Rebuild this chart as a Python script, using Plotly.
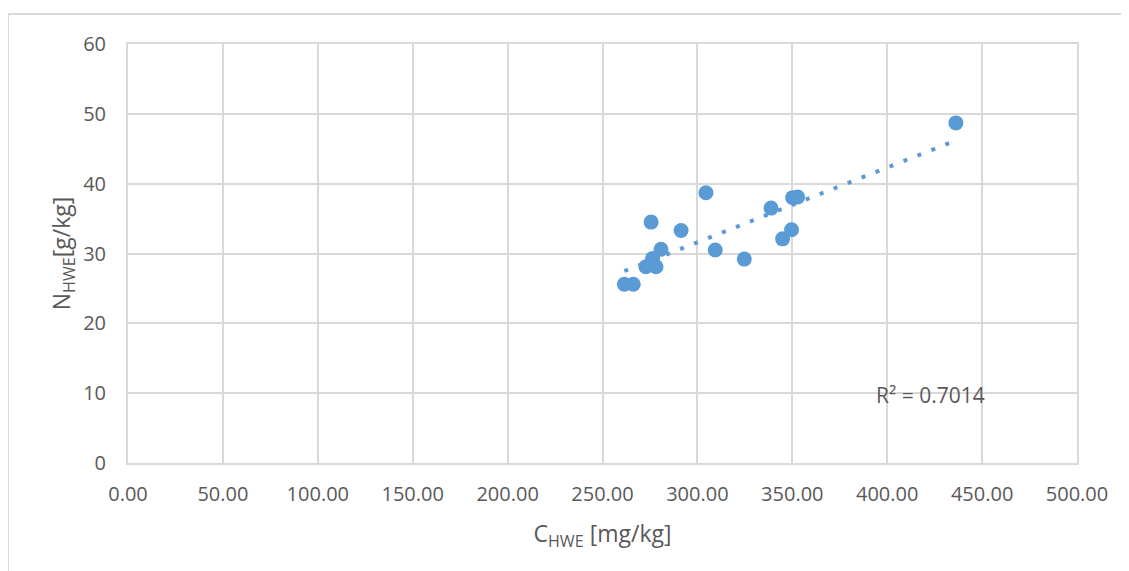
import numpy as np
import plotly.graph_objects as go

c_hwe = [436.2, 304.5, 275.6, 291.4, 280.8, 276.4, 272.9, 278.2, 261.5, 266.2,
         309.4, 324.7, 338.8, 344.9, 349.6, 350.2, 352.8]
n_hwe = [48.7, 38.7, 34.5, 33.3, 30.6, 29.3, 28.1, 28.1, 25.6, 25.6,
         30.5, 29.2, 36.5, 32.1, 33.4, 38.0, 38.1]
r2_text = "R² = 0.7014"

x = np.array(c_hwe)
y = np.array(n_hwe)
slope, intercept = np.polyfit(x, y, 1)
xt = np.array([x.min(), x.max()])
yt = slope * xt + intercept

blue = "#5b9bd5"
grid = "#d9d9d9"
txt = "#595959"
font = "Open Sans, Liberation Sans, sans-serif"

fig = go.Figure()
fig.add_trace(go.Scatter(x=xt, y=yt, mode="lines",
                         line=dict(color=blue, width=4, dash="4px,11px"),
                         hoverinfo="skip", showlegend=False))
fig.add_trace(go.Scatter(x=c_hwe, y=n_hwe, mode="markers",
                         marker=dict(color=blue, size=15),
                         showlegend=False))

fig.add_annotation(x=393, y=9.7, xanchor="left", yanchor="middle",
                   text=r2_text, showarrow=False,
                   font=dict(family=font, size=21, color=txt))

# outer chart border
fig.add_shape(type="rect", xref="paper", yref="paper",
              x0=-0.1265, x1=1.0548, y0=-0.30, y1=1.0716,
              line=dict(color=grid, width=2), layer="above")

fig.update_xaxes(range=[0, 500], tickvals=list(range(0, 501, 50)),
                 tickformat=".2f", showgrid=True, gridcolor=grid, gridwidth=2,
                 showline=True, linecolor=grid, linewidth=2, mirror=True,
                 zeroline=False, ticks="", ticklabelstandoff=12,
                 tickfont=dict(family=font, size=20, color=txt),
                 title=dict(text="C<sub>HWE</sub> [mg/kg]", standoff=20,
                            font=dict(family=font, size=23, color=txt)))
fig.update_yaxes(range=[0, 60], tickvals=list(range(0, 61, 10)),
                 showgrid=True, gridcolor=grid, gridwidth=2,
                 showline=True, linecolor=grid, linewidth=2, mirror=True,
                 zeroline=False, ticks="", ticklabelstandoff=16,
                 tickfont=dict(family=font, size=20, color=txt),
                 title=dict(text="N<sub>HWE</sub>[g/kg]", standoff=6,
                            font=dict(family=font, size=23, color=txt)))

fig.update_layout(width=1129, height=571,
                  margin=dict(l=120, r=60, t=36, b=116),
                  plot_bgcolor="white", paper_bgcolor="white",
                  font=dict(family=font, color=txt))

fig.write_html("out.html")
